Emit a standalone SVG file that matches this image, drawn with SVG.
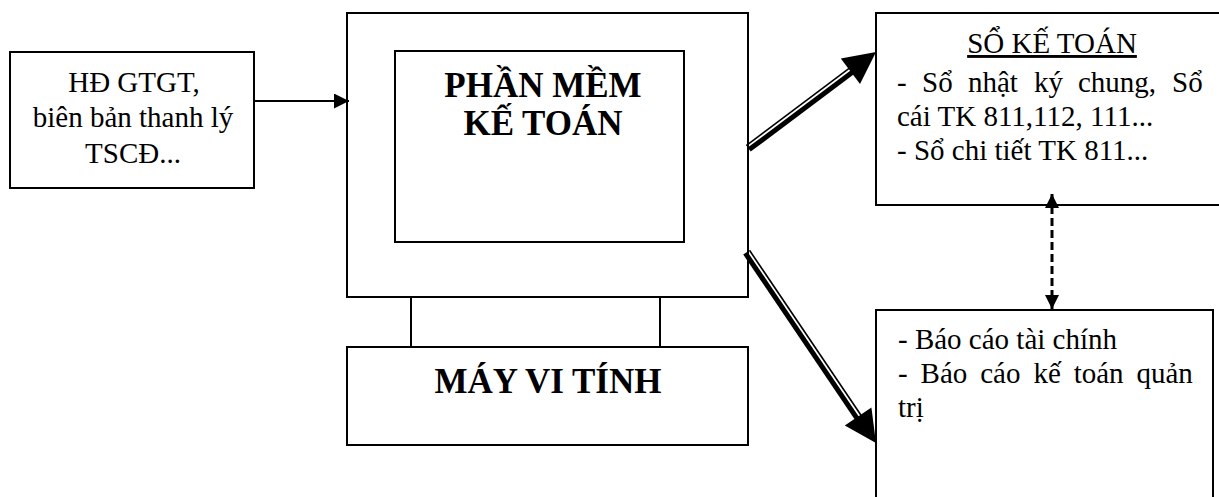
<svg xmlns="http://www.w3.org/2000/svg" width="1219" height="497" viewBox="0 0 1219 497">
<style>
.box{fill:#fff;stroke:#000;stroke-width:2}
.t{font-family:"Liberation Serif","Times New Roman",serif;font-size:29px;fill:#000}
.b{font-family:"Liberation Serif","Times New Roman",serif;font-size:35px;font-weight:bold;fill:#000}
.ln{stroke:#000;stroke-width:2;fill:none}
</style>
<defs>
<marker id="ahs" markerWidth="15" markerHeight="15" refX="15" refY="7.5" orient="auto" markerUnits="userSpaceOnUse"><path d="M0,0 L15,7.5 L0,15 Z" fill="#000"/></marker>
<marker id="ahd" markerWidth="14" markerHeight="14" refX="14" refY="7" orient="auto-start-reverse" markerUnits="userSpaceOnUse"><path d="M0,0 L14,7 L0,14 Z" fill="#000"/></marker>
</defs>

<g id="input">
<rect class="box" x="10" y="52" width="244" height="136"/>
<text class="t" text-anchor="middle"><tspan x="134" y="92">HĐ GTGT,</tspan><tspan x="133" y="127">biên bản thanh lý</tspan><tspan x="133" y="163">TSCĐ...</tspan></text>
</g>

<g id="computer">
<rect class="box" x="347" y="13" width="401" height="284"/>
<rect class="box" x="395" y="51" width="289" height="191"/>
<line class="ln" x1="411" y1="297" x2="411" y2="347"/>
<line class="ln" x1="660" y1="297" x2="660" y2="347"/>
<rect class="box" x="347" y="347" width="401" height="98"/>
<text class="b" text-anchor="middle"><tspan x="543" y="97">PHẦN MỀM</tspan><tspan x="543" y="135">KẾ TOÁN</tspan></text>
<text class="b" text-anchor="middle" x="548" y="393">MÁY VI TÍNH</text>
</g>

<g id="so-ke-toan">
<rect class="box" x="876" y="13" width="350" height="192"/>
<text class="t" text-anchor="middle" x="1052" y="53" text-decoration="underline">SỔ KẾ TOÁN</text>
<text class="t" y="92"><tspan x="897">-</tspan><tspan x="922">Sổ</tspan><tspan x="968">nhật</tspan><tspan x="1034">ký</tspan><tspan x="1078">chung,</tspan><tspan x="1172">Sổ</tspan></text>
<text class="t" x="897" y="126">cái TK 811,112, 111...</text>
<text class="t" x="897" y="160">- Sổ chi tiết TK 811...</text>
</g>

<g id="bao-cao">
<rect class="box" x="876" y="310" width="337" height="200"/>
<text class="t" x="898" y="349">- Báo cáo tài chính</text>
<text class="t" y="383"><tspan x="898">-</tspan><tspan x="920.6">Báo</tspan><tspan x="980.2">cáo</tspan><tspan x="1033.4">kế</tspan><tspan x="1073.7">toán</tspan><tspan x="1136.5">quản</tspan></text>
<text class="t" x="898" y="417">trị</text>
</g>

<g id="connectors">
<line class="ln" x1="254" y1="101" x2="349" y2="101" marker-end="url(#ahs)"/>
<line stroke="#000" stroke-width="3" stroke-dasharray="8,4" x1="1052" y1="194" x2="1052" y2="309" marker-start="url(#ahd)" marker-end="url(#ahd)"/>
<line stroke="#000" stroke-width="5" x1="749.2" y1="149.6" x2="852.4" y2="72.2"/>
<line stroke="#000" stroke-width="1.6" x1="746.2" y1="145.6" x2="849.4" y2="68.2"/>
<path d="M876,52 L860,84 L840.8,58.4 Z" fill="#000"/>
<line stroke="#000" stroke-width="5" x1="745.3" y1="253.1" x2="857" y2="418.3"/>
<line stroke="#000" stroke-width="1.6" x1="749.5" y1="250.3" x2="861.2" y2="415.5"/>
<path d="M876,443 L871.4,407.5 L844.8,425.5 Z" fill="#000"/>
</g>
</svg>
